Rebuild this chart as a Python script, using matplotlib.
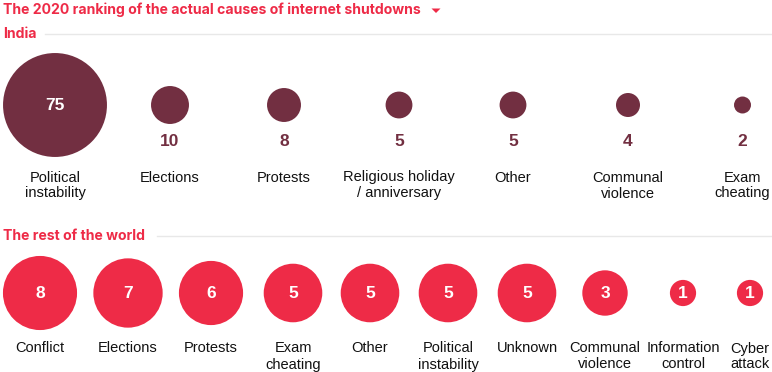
import matplotlib
matplotlib.use("Agg")
import matplotlib.pyplot as plt
from matplotlib.patches import Circle
import numpy as np

# ---- data ----
title = "The 2020 ranking of the actual causes of internet shutdowns"
india_title = "India"
india_labels = ["Political\ninstability", "Elections", "Protests",
                "Religious holiday\n/ anniversary", "Other",
                "Communal\nviolence", "Exam\ncheating"]
india_values = [75, 10, 8, 5, 5, 4, 2]

world_title = "The rest of the world"
world_labels = ["Conflict", "Elections", "Protests", "Exam\ncheating", "Other",
                "Political\ninstability", "Unknown", "Communal\nviolence",
                "Information\ncontrol", "Cyber\nattack"]
world_values = [8, 7, 6, 5, 5, 5, 5, 3, 1, 1]

# ---- layout / style ----
W, H = 772, 372
MAROON = "#722F41"
RED = "#EE2B47"
GRID = "#E8E8E8"
india_x = [55, 170, 284, 399, 513, 628, 742.5]
world_x = [40, 128, 211, 293, 370, 448, 527, 605, 683, 750]
india_k = 6.0
world_k = 13.1

fig = plt.figure(figsize=(W / 100, H / 100), dpi=100)
ax = fig.add_axes([0, 0, 1, 1])
ax.set_xlim(0, W)
ax.set_ylim(H, 0)
ax.axis("off")

HEAD = ["Inter", "DejaVu Sans"]
BODY = ["Liberation Sans", "DejaVu Sans"]

ax.text(3, 10, title, color=RED, fontsize=10.1, fontweight="bold",
        family=HEAD, va="center", ha="left")
ax.fill([431.5, 440.5, 436], [8.5, 8.5, 13], color=RED, lw=0)

def section(ytitle, name, line_x0):
    ax.text(3, ytitle, name, color=RED, fontsize=10.1, fontweight="bold",
            family=HEAD, va="center", ha="left")
    ax.plot([line_x0, W], [ytitle - 0.5, ytitle - 0.5], color=GRID, lw=1)

def label(x, y0, text, dy=16):
    for i, line in enumerate(text.split("\n")):
        ax.text(x, y0 + i * dy, line, color="#111111", fontsize=10.5,
                family=BODY, ha="center", va="center")

# India
section(34, india_title, 45)
cy = 105
for x, v, lab in zip(india_x, india_values, india_labels):
    r = india_k * np.sqrt(v)
    ax.add_patch(Circle((x, cy), r, color=MAROON, lw=0))
    if r > 30:
        ax.text(x, cy, str(v), color="white", fontsize=12.5, fontweight="bold",
                family=BODY, ha="center", va="center")
    else:
        ax.text(x, 142, str(v), color=MAROON, fontsize=12.5, fontweight="bold",
                family=BODY, ha="center", va="center")
    label(x, 177.5, lab)

# World
section(236, world_title, 157)
cy = 293
for x, v, lab in zip(world_x, world_values, world_labels):
    r = world_k * np.sqrt(v)
    ax.add_patch(Circle((x, cy), r, color=RED, lw=0))
    ax.text(x, cy, str(v), color="white", fontsize=12.5, fontweight="bold",
            family=BODY, ha="center", va="center")
    label(x, 348.5, lab)

fig.savefig("out.png", dpi=100)
